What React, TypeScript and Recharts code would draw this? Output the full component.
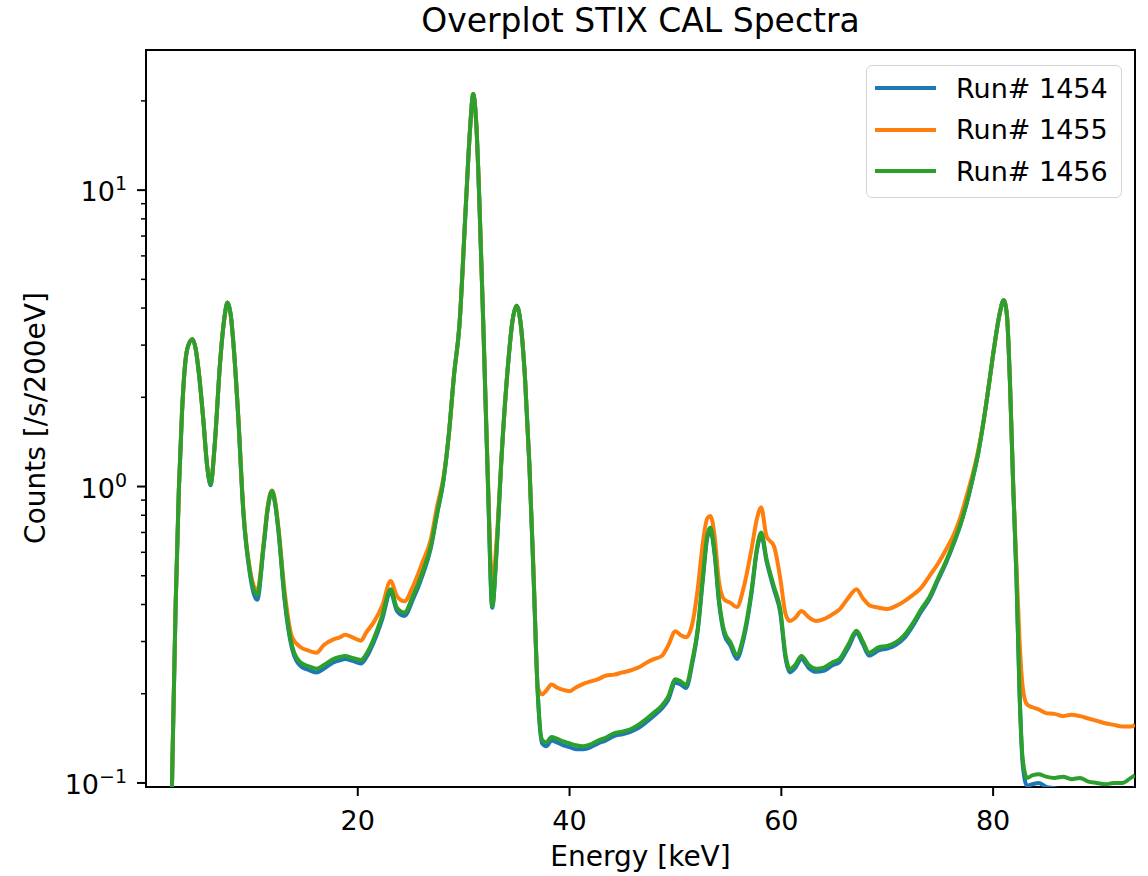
import {
  Legend,
  Line,
  LineChart,
  ReferenceArea,
  XAxis,
  YAxis,
} from "recharts";

const energy = [
  2.3, 2.5, 2.8, 3.1, 3.4, 3.7, 4.0, 4.4, 4.7, 5.0,
  5.4, 5.8, 6.1, 6.5, 7.0, 7.4, 7.7, 8.0, 8.3, 8.7,
  9.2, 9.8, 10.5, 11.1, 11.5, 11.9, 12.2, 12.5, 13.1, 13.8,
  14.6, 15.3, 16.1, 16.8, 17.7, 18.3, 18.8, 19.5, 20.3, 20.8,
  21.5, 22.3, 23.1, 23.7, 24.4, 25.2, 26.1, 26.9, 27.5, 28.1,
  28.6, 29.1, 29.6, 30.2, 30.6, 30.9, 31.2, 31.5, 31.9, 32.3,
  32.7, 33.1, 33.6, 34.2, 34.6, 35.0, 35.4, 35.8, 36.2, 36.6,
  37.0, 37.4, 37.8, 38.3, 38.8, 39.4, 40.0, 40.6, 41.3, 42.0,
  42.7, 43.4, 44.2, 45.0, 45.8, 46.6, 47.3, 48.0, 48.7, 49.3,
  50.0, 50.5, 51.0, 51.6, 52.1, 52.6, 53.0, 53.3, 53.7, 54.1,
  54.6, 55.2, 55.8, 56.4, 57.2, 57.7, 58.1, 58.6, 59.3, 59.9,
  60.4, 60.8, 61.3, 61.9, 62.6, 63.3, 64.0, 64.8, 65.5, 66.3,
  67.1, 67.7, 68.3, 69.2, 70.0, 70.8, 71.6, 72.4, 73.2, 74.0,
  74.8, 75.6, 76.3, 76.9, 77.5, 78.1, 78.6, 79.1, 79.6, 80.1,
  80.6, 81.0, 81.3, 81.6, 81.9, 82.2, 82.5, 82.8, 83.2, 83.7,
  84.3, 85.0, 85.8, 86.6, 87.4, 88.2, 89.0, 89.8, 90.6, 91.4,
  92.2, 93.0, 93.4,
];

// Run# 1454
const run1454 = [
  0.05, 0.12, 0.4, 0.97, 1.78, 2.6, 3.0, 3.14, 2.9, 2.4,
  1.7, 1.15, 1.01, 1.4, 2.63, 3.7, 4.18, 3.8, 2.9, 1.74,
  0.81, 0.51, 0.415, 0.62, 0.84, 0.96, 0.87, 0.71, 0.41, 0.283,
  0.248, 0.241, 0.236, 0.243, 0.255, 0.259, 0.262, 0.258, 0.253, 0.265,
  0.298, 0.356, 0.44, 0.38, 0.366, 0.415, 0.5, 0.62, 0.81, 1.05,
  1.5, 2.4, 3.5, 8.8, 16, 21.1, 16.5, 8.8, 3.1, 1.0,
  0.39, 0.6, 1.3, 2.6, 3.6, 4.07, 3.5, 2.3, 1.2, 0.5,
  0.2, 0.136, 0.133, 0.139, 0.137, 0.134, 0.132, 0.13, 0.13, 0.132,
  0.136, 0.139, 0.144, 0.146, 0.149, 0.154, 0.161, 0.169, 0.178, 0.19,
  0.218, 0.215, 0.209, 0.254, 0.325, 0.49, 0.67, 0.71, 0.59, 0.41,
  0.318, 0.29, 0.262, 0.302, 0.44, 0.61, 0.685, 0.56, 0.45, 0.375,
  0.263, 0.236, 0.244, 0.262, 0.244, 0.237, 0.239, 0.249, 0.256, 0.285,
  0.32, 0.294, 0.269, 0.28, 0.284, 0.292, 0.308, 0.338, 0.378, 0.418,
  0.483, 0.558, 0.645, 0.74, 0.875, 1.07, 1.3, 1.66, 2.2, 2.95,
  3.8, 4.25, 3.8, 2.2, 1.0, 0.5, 0.2, 0.115, 0.098, 0.099,
  0.1, 0.097, 0.096, 0.095, 0.095, 0.094, 0.094, 0.093, 0.094, 0.094,
  0.094, 0.095, 0.096,
];

// Run# 1455
const run1455 = [
  0.05, 0.12, 0.4, 0.97, 1.78, 2.6, 3.0, 3.14, 2.9, 2.4,
  1.7, 1.15, 1.03, 1.4, 2.63, 3.7, 4.18, 3.8, 2.9, 1.76,
  0.83, 0.53, 0.445, 0.64, 0.86, 0.97, 0.89, 0.73, 0.44, 0.31,
  0.287, 0.28, 0.275, 0.292, 0.305, 0.31, 0.316, 0.31, 0.302, 0.322,
  0.348, 0.395, 0.48, 0.427, 0.41, 0.46, 0.554, 0.664, 0.86, 1.08,
  1.5, 2.4, 3.5, 8.8, 16, 21.1, 16.5, 8.8, 3.1, 1.05,
  0.46, 0.65, 1.3, 2.6, 3.6, 4.07, 3.5, 2.3, 1.2, 0.52,
  0.21, 0.199, 0.205, 0.215, 0.21, 0.206, 0.204, 0.21, 0.216, 0.22,
  0.224, 0.23, 0.232, 0.236, 0.24, 0.246, 0.255, 0.262, 0.268, 0.29,
  0.325, 0.315, 0.31, 0.345, 0.45, 0.65, 0.78, 0.796, 0.68, 0.48,
  0.416, 0.405, 0.392, 0.45, 0.62, 0.78, 0.85, 0.68, 0.63, 0.49,
  0.372, 0.352, 0.36, 0.38, 0.362, 0.352, 0.357, 0.37, 0.385, 0.42,
  0.45, 0.42, 0.398, 0.39, 0.386, 0.395, 0.41, 0.43, 0.455, 0.5,
  0.55, 0.617, 0.69, 0.785, 0.93, 1.11, 1.33, 1.66, 2.2, 2.95,
  3.8, 4.25, 3.8, 2.2, 1.0, 0.55, 0.3, 0.21, 0.184, 0.18,
  0.177, 0.172, 0.171, 0.168, 0.17, 0.168, 0.165, 0.162, 0.159, 0.157,
  0.155, 0.155, 0.157,
];

// Run# 1456
const run1456 = [
  0.05, 0.12, 0.4, 0.97, 1.78, 2.6, 3.0, 3.14, 2.9, 2.4,
  1.7, 1.15, 1.02, 1.4, 2.63, 3.7, 4.18, 3.8, 2.9, 1.75,
  0.82, 0.52, 0.43, 0.63, 0.85, 0.966, 0.88, 0.72, 0.42, 0.29,
  0.255, 0.248, 0.243, 0.25, 0.262, 0.266, 0.268, 0.264, 0.26, 0.272,
  0.306, 0.366, 0.45, 0.39, 0.376, 0.427, 0.513, 0.63, 0.817, 1.06,
  1.5, 2.4, 3.5, 8.8, 16, 21.1, 16.5, 8.8, 3.1, 1.0,
  0.395, 0.6, 1.3, 2.6, 3.6, 4.07, 3.5, 2.3, 1.2, 0.5,
  0.2, 0.14, 0.137, 0.143, 0.141, 0.138, 0.136, 0.134, 0.133, 0.135,
  0.139, 0.142, 0.147, 0.149, 0.152, 0.158, 0.165, 0.173, 0.182, 0.195,
  0.224, 0.22, 0.214, 0.26, 0.33, 0.5, 0.68, 0.727, 0.6, 0.42,
  0.326, 0.298, 0.271, 0.31, 0.45, 0.62, 0.7, 0.57, 0.46, 0.385,
  0.27, 0.242, 0.25, 0.268, 0.25, 0.243, 0.245, 0.255, 0.262, 0.292,
  0.326, 0.3, 0.275, 0.287, 0.29, 0.298, 0.315, 0.345, 0.385, 0.425,
  0.49, 0.565, 0.65, 0.744, 0.88, 1.08, 1.3, 1.66, 2.2, 2.95,
  3.8, 4.25, 3.8, 2.2, 1.0, 0.5, 0.2, 0.12, 0.104, 0.106,
  0.107, 0.105, 0.104, 0.105, 0.103, 0.104, 0.101, 0.1, 0.099, 0.1,
  0.1, 0.104, 0.106,
];

const xTicks = [20, 40, 60, 80];
const yTicks = [
  0.1, 0.2, 0.3, 0.4, 0.5, 0.6, 0.7, 0.8, 0.9,
  1, 2, 3, 4, 5, 6, 7, 8, 9,
  10, 20,
];

const X_MIN = 0;
const X_MAX = 93.4;
const Y_MIN = 0.0969;
const Y_MAX = 29.7;

const FONT = "DejaVu Sans";
const FS = 27;

const rows = energy.map((e, i) => ({
  energy: e,
  run1454: run1454[i],
  run1455: run1455[i],
  run1456: run1456[i],
}));

function XTick(props: any) {
  const { x, y, payload } = props;
  return (
    <g>
      <line x1={x} x2={x} y1={y} y2={y + 9} stroke="#000" strokeWidth={2} />
      <text x={x} y={y + 43} textAnchor="middle" fontSize={FS} fontFamily={FONT} fill="#000">
        {payload.value}
      </text>
    </g>
  );
}

function YTick(props: any) {
  const { x, y, payload } = props;
  const lg = Math.log10(payload.value);
  const exp = Math.round(lg);
  const major = Math.abs(lg - exp) < 1e-6;
  return (
    <g>
      <line x1={x - (major ? 9 : 5)} x2={x} y1={y} y2={y} stroke="#000" strokeWidth={major ? 2 : 1.5} />
      {major && (
        <text x={x - 19} y={y + 11} textAnchor="end" fontSize={FS} fontFamily={FONT} fill="#000">
          10
          <tspan dy={-11} fontSize={19}>
            {exp < 0 ? "\u2212" + -exp : String(exp)}
          </tspan>
        </text>
      )}
    </g>
  );
}

function LegendBox(props: any) {
  const items = props.payload || [];
  return (
    <div
      style={{
        width: 254,
        height: 131,
        border: "1.5px solid #d4d4d4",
        borderRadius: 6,
        background: "rgba(255,255,255,0.8)",
        position: "relative",
        fontFamily: FONT,
      }}
    >
      {items.map((it: any, i: number) => (
        <div
          key={it.value}
          style={{
            position: "absolute",
            left: 8,
            top: 6 + i * 41.7,
            height: 32,
            display: "flex",
            alignItems: "center",
          }}
        >
          <span style={{ display: "inline-block", width: 61, height: 4, background: it.color }} />
          <span style={{ marginLeft: 20, fontSize: FS, color: "#000", whiteSpace: "nowrap" }}>
            {it.value}
          </span>
        </div>
      ))}
    </div>
  );
}

function YLabel() {
  return (
    <text
      x={45}
      y={418}
      transform="rotate(-90 45 418)"
      textAnchor="middle"
      fontSize={28}
      fontFamily={FONT}
      fill="#000"
    >
      Counts [/s/200eV]
    </text>
  );
}

export default function App() {
  return (
    <div
      style={{
        position: "absolute",
        left: 0,
        top: 0,
        width: 1148,
        height: 876,
        background: "#fff",
        fontFamily: FONT,
      }}
    >
      <div
        style={{
          position: "absolute",
          left: 146,
          width: 989,
          top: 2,
          textAlign: "center",
          fontSize: 33,
          lineHeight: "38px",
          color: "#000",
          zIndex: 2,
        }}
      >
        Overplot STIX CAL Spectra
      </div>
      <LineChart
        width={1148}
        height={876}
        data={rows}
        margin={{ top: 50, right: 13, left: 0, bottom: 0 }}
      >
        <XAxis
          dataKey="energy"
          type="number"
          domain={[X_MIN, X_MAX]}
          ticks={xTicks}
          allowDataOverflow
          height={89}
          axisLine={false}
          tickLine={false}
          tickSize={0}
          tickMargin={0}
          tick={<XTick />}
          label={{
            value: "Energy [keV]",
            position: "insideBottom",
            offset: 10,
            fontSize: 28,
            fontFamily: FONT,
            fill: "#000",
          }}
        />
        <YAxis
          type="number"
          scale="log"
          domain={[Y_MIN, Y_MAX]}
          ticks={yTicks}
          allowDataOverflow
          width={146}
          axisLine={false}
          tickLine={false}
          tickSize={0}
          tickMargin={0}
          interval={0}
          tick={<YTick />}
          label={<YLabel />}
        />
        <Line
          dataKey="run1454"
          name="Run# 1454"
          stroke="#1f77b4"
          strokeWidth={4}
          type="monotone"
          dot={false}
          isAnimationActive={false}
        />
        <Line
          dataKey="run1455"
          name="Run# 1455"
          stroke="#ff7f0e"
          strokeWidth={4}
          type="monotone"
          dot={false}
          isAnimationActive={false}
        />
        <Line
          dataKey="run1456"
          name="Run# 1456"
          stroke="#2ca02c"
          strokeWidth={4}
          type="monotone"
          dot={false}
          isAnimationActive={false}
        />
        <ReferenceArea
          x1={X_MIN}
          x2={X_MAX}
          y1={Y_MIN}
          y2={Y_MAX}
          fill="none"
          fillOpacity={0}
          stroke="#000"
          strokeWidth={2}
        />
        <Legend
          layout="horizontal"
          align="center"
          verticalAlign="middle"
          content={<LegendBox />}
          wrapperStyle={{ left: 866, top: 65, width: 256, height: 133 }}
        />
      </LineChart>
    </div>
  );
}
